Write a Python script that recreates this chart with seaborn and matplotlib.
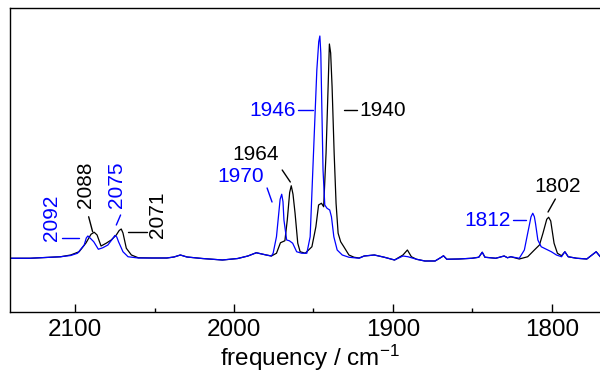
import matplotlib
matplotlib.use("Agg")
import matplotlib.pyplot as plt
import seaborn as sns
import pandas as pd

# IR spectra: wavenumber (cm^-1) and absorbance for the two samples
black_freq = [2141.0, 2128.3, 2115.5, 2109.2, 2102.8, 2097.5, 2093.2, 2090.0, 2088.0, 2086.2,
              2083.7, 2080.5, 2077.3, 2074.1, 2072.3, 2071.0, 2069.9, 2067.8, 2064.6, 2060.3,
              2051.8, 2042.3, 2037.8, 2033.8, 2029.6, 2020.0, 2007.3, 1997.7, 1991.3,
              1986.0, 1979.7, 1976.5, 1973.3, 1970.8, 1968.0, 1966.5, 1965.0, 1964.0, 1962.9,
              1961.6, 1959.9, 1958.4, 1955.2, 1951.0, 1948.5, 1946.8, 1945.0, 1943.6, 1942.1,
              1940.8, 1940.0, 1939.2, 1938.3, 1937.0, 1935.8, 1934.5, 1932.9, 1930.9, 1927.7,
              1924.5, 1921.3, 1918.1, 1911.7, 1905.4, 1899.0, 1893.7, 1890.9, 1888.4,
              1885.2, 1879.9, 1873.5, 1869.3, 1868.2, 1866.1, 1858.7, 1850.2, 1846.0,
              1843.8, 1842.1, 1835.3, 1830.0, 1827.9, 1825.8, 1820.5, 1815.2, 1811.0,
              1807.8, 1805.6, 1803.2, 1802.0, 1800.7, 1798.6, 1796.5, 1793.9, 1791.8, 1789.7,
              1784.4, 1778.0, 1772.1, 1769.5, 1766.4, 1765.3]
black_abs = [-0.001, -0.001, 0.003, 0.005, 0.012, 0.025, 0.060, 0.095, 0.103, 0.092,
             0.048, 0.059, 0.072, 0.092, 0.110, 0.116, 0.100, 0.039, 0.012, 0.001,
             0.000, 0.000, 0.004, 0.012, 0.004, -0.002, -0.008, -0.002, 0.008,
             0.021, 0.012, 0.008, 0.019, 0.061, 0.069, 0.152, 0.262, 0.289, 0.255,
             0.179, 0.059, 0.025, 0.019, 0.045, 0.125, 0.212, 0.219, 0.205, 0.419,
             0.685, 0.856, 0.820, 0.685, 0.419, 0.219, 0.099, 0.065, 0.045, 0.012,
             0.003, 0.000, 0.008, 0.012, 0.003, -0.008, 0.012, 0.032, 0.005,
             -0.005, -0.012, -0.012, 0.004, 0.009, -0.005, -0.004, -0.001, 0.003,
             0.023, 0.003, -0.001, 0.008, 0.001, 0.005, -0.004, 0.005, 0.032,
             0.052, 0.099, 0.155, 0.163, 0.148, 0.059, 0.019, 0.009, 0.025, 0.005,
             -0.001, -0.004, 0.025, 0.005, -0.001, -0.011]

blue_freq = [2141.0, 2128.3, 2115.5, 2109.2, 2102.8, 2098.5, 2094.3, 2093.0, 2092.0, 2090.6, 2088.3,
             2085.4, 2082.6, 2079.4, 2076.2, 2075.0, 2073.8, 2072.7, 2069.9, 2066.7, 2060.3,
             2051.8, 2042.3, 2037.8, 2033.8, 2029.6, 2020.0, 2007.3, 1997.7, 1991.3,
             1986.0, 1979.7, 1976.5, 1975.4, 1973.3, 1971.0, 1970.0, 1969.2, 1968.6, 1966.9, 1965.2,
             1963.1, 1960.6, 1957.4, 1954.2, 1952.1, 1950.0, 1947.9, 1946.7, 1946.0, 1945.4, 1945.0,
             1944.0, 1942.9, 1941.5, 1939.8, 1938.7, 1937.2, 1935.1, 1931.9, 1927.7,
             1921.3, 1918.1, 1911.7, 1905.4, 1899.0, 1893.7, 1890.5, 1885.2, 1879.9,
             1873.5, 1869.3, 1868.2, 1866.1, 1858.7, 1850.2, 1846.0, 1843.8, 1842.1,
             1835.3, 1830.0, 1827.9, 1825.8, 1820.5, 1817.3, 1815.2, 1813.1, 1812.0, 1811.0, 1810.3,
             1808.8, 1806.7, 1803.5, 1800.3, 1797.1, 1793.9, 1791.8, 1789.7, 1784.4,
             1778.0, 1772.1, 1769.5, 1766.4, 1765.3]
blue_abs = [-0.001, -0.001, 0.003, 0.005, 0.010, 0.019, 0.052, 0.080, 0.088, 0.080, 0.065,
            0.035, 0.041, 0.052, 0.079, 0.090, 0.084, 0.065, 0.025, 0.005, 0.000,
            0.000, 0.000, 0.004, 0.012, 0.004, -0.002, -0.008, -0.002, 0.008,
            0.021, 0.012, 0.008, 0.019, 0.085, 0.235, 0.255, 0.225, 0.152, 0.072, 0.069,
            0.059, 0.025, 0.019, 0.019, 0.085, 0.419, 0.752, 0.865, 0.888, 0.820, 0.685,
            0.352, 0.212, 0.199, 0.192, 0.165, 0.085, 0.032, 0.012, 0.003,
            -0.001, 0.008, 0.012, 0.003, -0.008, 0.008, 0.005, -0.005, -0.012,
            -0.012, 0.004, 0.009, -0.005, -0.004, -0.001, 0.003, 0.023, 0.003,
            -0.001, 0.008, 0.001, 0.005, -0.001, 0.032, 0.099, 0.165, 0.179, 0.165, 0.139,
            0.072, 0.045, 0.035, 0.025, 0.012, 0.005, 0.025, 0.005, -0.001,
            -0.004, 0.025, 0.005, -0.001, -0.011]

# labelled band positions (cm^-1)
black_bands = [2088, 2071, 1964, 1940, 1802]
blue_bands = [2092, 2075, 1970, 1946, 1812]

x_ticks = [2100, 2000, 1900, 1800]
x_minor = [2050, 1950, 1850]

BLUE = "#0000ff"
BLACK = "#000000"

sns.set_theme(style="white")
plt.rcParams["font.family"] = ["Liberation Sans", "DejaVu Sans"]
plt.rcParams["mathtext.default"] = "regular"
plt.rcParams["text.color"] = BLACK
plt.rcParams["axes.labelcolor"] = BLACK
plt.rcParams["xtick.color"] = BLACK
plt.rcParams["xtick.labelcolor"] = BLACK

fig = plt.figure(figsize=(6.0, 3.8), dpi=100)
ax = fig.add_axes([10 / 600, 1 - 312 / 380, 1.0, (312 - 8) / 380])

df_black = pd.DataFrame({"freq": black_freq, "absorbance": black_abs})
df_blue = pd.DataFrame({"freq": blue_freq, "absorbance": blue_abs})
sns.lineplot(data=df_black, x="freq", y="absorbance", color=BLACK, lw=0.9, ax=ax)
sns.lineplot(data=df_blue, x="freq", y="absorbance", color=BLUE, lw=0.9, ax=ax)

ax.set_xlim(2141.0, 1763.4)
ax.set_ylim(-0.216, 1.0)
ax.set_xticks(x_ticks)
ax.set_xticks(x_minor, minor=True)
ax.set_xticklabels([str(t) for t in x_ticks])
ax.set_yticks([])
ax.set_ylabel("")
ax.set_xlabel("frequency / cm$^{-1}$", fontsize=17.5, labelpad=1, color=BLACK)
ax.tick_params(axis="x", which="major", direction="in", length=5.5, width=1,
               color=BLACK, labelcolor=BLACK, labelsize=17.5, pad=5, bottom=True)
ax.tick_params(axis="x", which="minor", direction="in", length=3, width=1,
               color=BLACK, bottom=True)
for side in ("left", "top", "bottom", "right"):
    ax.spines[side].set_color(BLACK)
    ax.spines[side].set_linewidth(1.0)

# band labels: (colour, text position, leader start, leader end, h-align, rotation)
label_layout = {
    1946: (BLUE, (1961.4, 0.592), (1959.5, 0.592), (1950.6, 0.592), "right", 0),
    1940: (BLACK, (1921.3, 0.592), (1930.9, 0.592), (1922.6, 0.592), "left", 0),
    1964: (BLACK, (1986.2, 0.412), (1969.7, 0.352), (1964.6, 0.304), "center", 0),
    1970: (BLUE, (1995.8, 0.328), (1979.2, 0.280), (1976.1, 0.224), "center", 0),
    1812: (BLUE, (1825.8, 0.152), (1824.5, 0.152), (1816.2, 0.152), "right", 0),
    1802: (BLACK, (1796.5, 0.284), (1797.8, 0.236), (1802.4, 0.184), "center", 0),
    2092: (BLUE, (2114.9, 0.160), (2108.1, 0.079), (2097.5, 0.079), "center", 90),
    2088: (BLACK, (2093.6, 0.292), (2091.5, 0.165), (2089.0, 0.105), "center", 90),
    2075: (BLUE, (2073.8, 0.292), (2074.1, 0.132), (2071.4, 0.172), "center", 90),
    2071: (BLACK, (2048.0, 0.172), (2066.7, 0.105), (2055.0, 0.105), "center", 90),
}

for band in black_bands + blue_bands:
    color, txt_xy, p0, p1, ha, rot = label_layout[band]
    ax.plot([p0[0], p1[0]], [p0[1], p1[1]], color=color, lw=1.0)
    ax.text(txt_xy[0], txt_xy[1], str(band), color=color, fontsize=15,
            ha=ha, va="center", rotation=rot)

fig.savefig("out.png", dpi=100)
